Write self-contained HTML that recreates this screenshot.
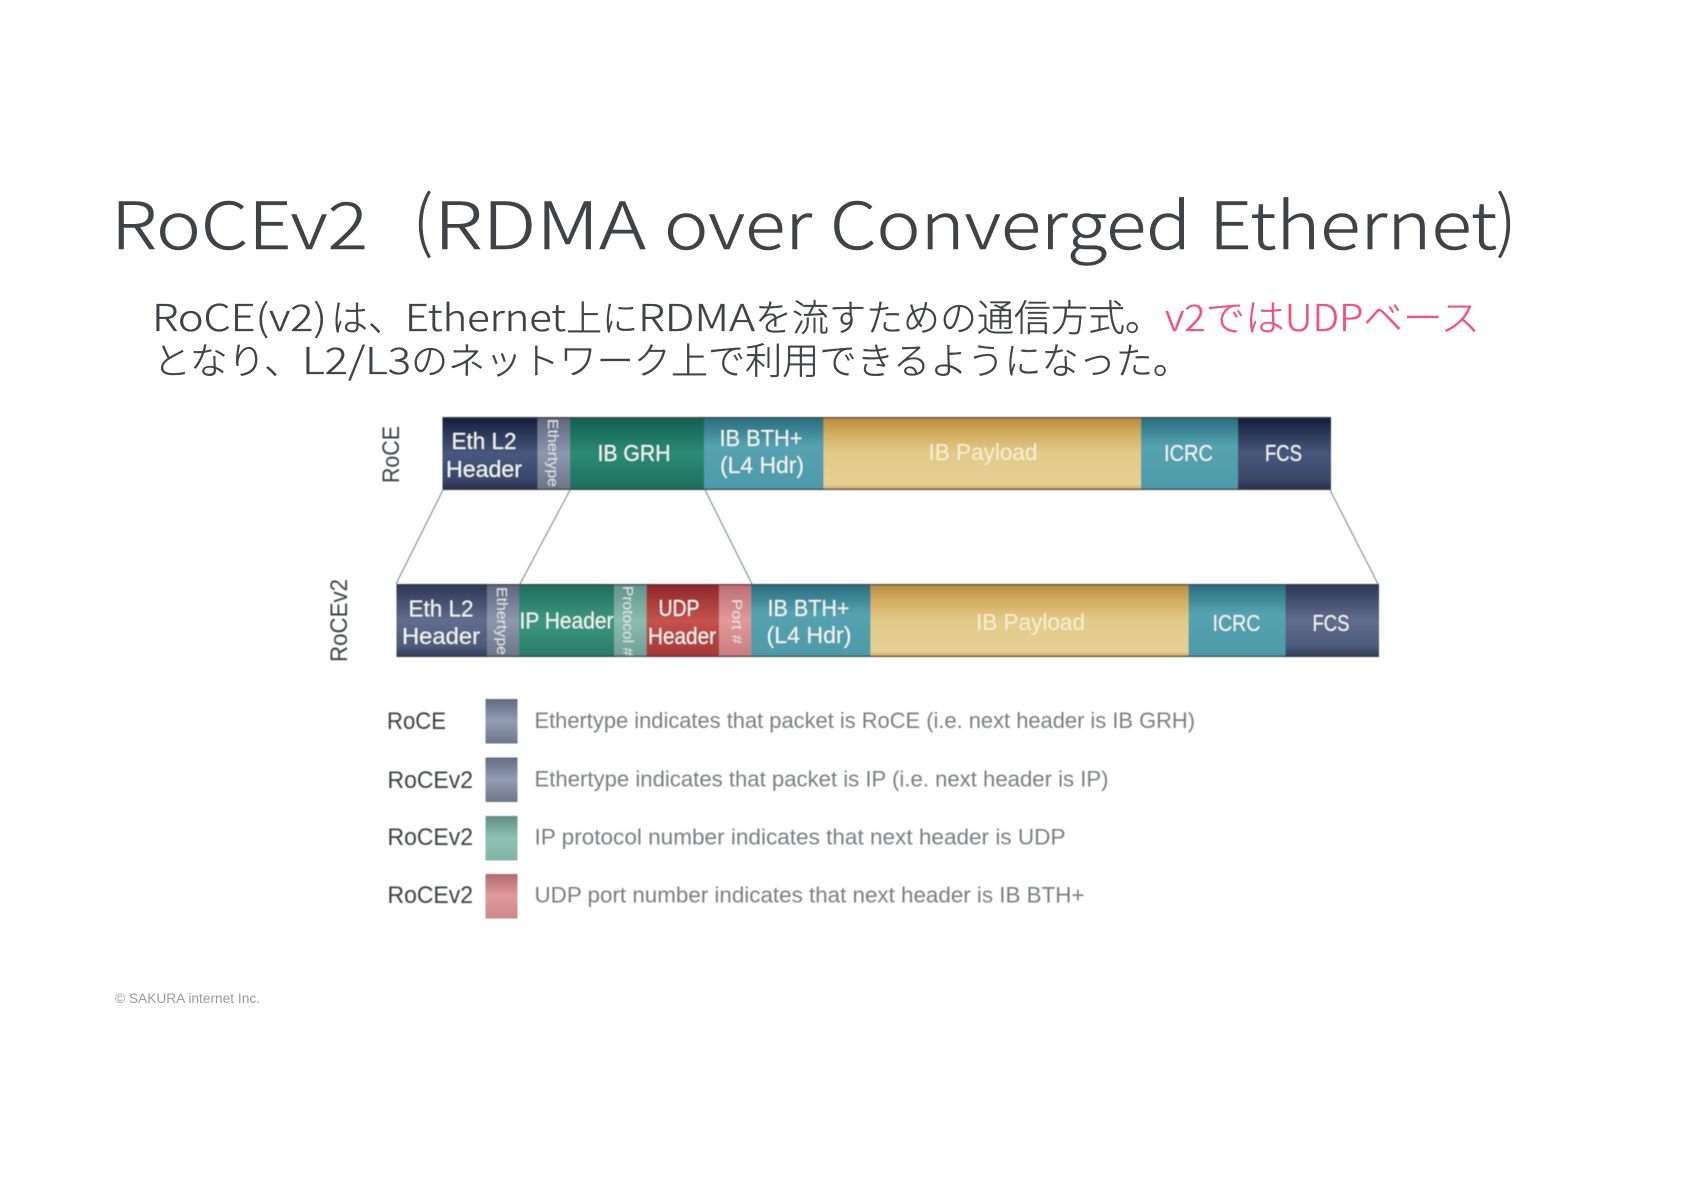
<!DOCTYPE html>
<html><head><meta charset="utf-8"><style>
html,body{margin:0;padding:0;background:#fff}
svg{display:block}
.t{font-family:"Noto Sans CJK JP","Liberation Sans",sans-serif;font-weight:300;stroke:#404247;stroke-width:.5}
.j{font-family:"Noto Sans CJK JP","Liberation Sans",sans-serif;font-weight:300;stroke:#404247;stroke-width:.35}
.p{font-family:"Noto Sans CJK JP","Liberation Sans",sans-serif;font-weight:300;stroke:#f2527c;stroke-width:.35;fill:#f2527c}
.w{font-family:"Liberation Sans",sans-serif;font-size:23px;fill:#f4f6f4;text-anchor:middle}
.v{font-family:"Liberation Sans",sans-serif;font-size:14.5px;fill:#dfe3e6}
.l{font-family:"Liberation Sans",sans-serif;font-size:24px;fill:#3c3f44}
.d{font-family:"Liberation Sans",sans-serif;font-size:22px;fill:#7a7d80}
</style></head><body>
<svg width="1684" height="1191" viewBox="0 0 1684 1191" xmlns="http://www.w3.org/2000/svg">
<defs>
<linearGradient id="navy" x1="0" y1="0" x2="0" y2="1"><stop offset="0" stop-color="#151d3a"/><stop offset=".5" stop-color="#47587c"/><stop offset=".85" stop-color="#3a4868"/><stop offset="1" stop-color="#252e4b"/></linearGradient>
<linearGradient id="navy2" x1="0" y1="0" x2="0" y2="1"><stop offset="0" stop-color="#2b3553"/><stop offset=".5" stop-color="#626d8e"/><stop offset=".85" stop-color="#4d5a7a"/><stop offset="1" stop-color="#2f3a58"/></linearGradient>
<linearGradient id="eth" x1="0" y1="0" x2="0" y2="1"><stop offset="0" stop-color="#5d657d"/><stop offset=".5" stop-color="#8e97ae"/><stop offset="1" stop-color="#6d7488"/></linearGradient>
<linearGradient id="grh" x1="0" y1="0" x2="0" y2="1"><stop offset="0" stop-color="#135e50"/><stop offset=".5" stop-color="#2b8b75"/><stop offset="1" stop-color="#1c6f5e"/></linearGradient>
<linearGradient id="ip" x1="0" y1="0" x2="0" y2="1"><stop offset="0" stop-color="#1f6b5b"/><stop offset=".5" stop-color="#3d9780"/><stop offset="1" stop-color="#277a67"/></linearGradient>
<linearGradient id="proto" x1="0" y1="0" x2="0" y2="1"><stop offset="0" stop-color="#5f9387"/><stop offset=".5" stop-color="#8bbcae"/><stop offset="1" stop-color="#6f9f93"/></linearGradient>
<linearGradient id="teal" x1="0" y1="0" x2="0" y2="1"><stop offset="0" stop-color="#276c7d"/><stop offset=".4" stop-color="#55a2b0"/><stop offset="1" stop-color="#4d9aaa"/></linearGradient>
<linearGradient id="gold" x1="0" y1="0" x2="0" y2="1"><stop offset="0" stop-color="#b98a3c"/><stop offset=".25" stop-color="#d4b064"/><stop offset=".5" stop-color="#e2ca8a"/><stop offset=".92" stop-color="#e5cf92"/><stop offset="1" stop-color="#c9a863"/></linearGradient>
<linearGradient id="udp" x1="0" y1="0" x2="0" y2="1"><stop offset="0" stop-color="#8f2528"/><stop offset=".5" stop-color="#c4534f"/><stop offset="1" stop-color="#a43634"/></linearGradient>
<linearGradient id="port" x1="0" y1="0" x2="0" y2="1"><stop offset="0" stop-color="#bd6d71"/><stop offset=".5" stop-color="#e3999a"/><stop offset="1" stop-color="#c77c7e"/></linearGradient>
<linearGradient id="s1" x1="0" y1="0" x2="0" y2="1"><stop offset="0" stop-color="#636b80"/><stop offset=".5" stop-color="#939db3"/><stop offset="1" stop-color="#6e7589"/></linearGradient>
<linearGradient id="s3" x1="0" y1="0" x2="0" y2="1"><stop offset="0" stop-color="#628f84"/><stop offset=".5" stop-color="#8fc2b2"/><stop offset="1" stop-color="#82b3a4"/></linearGradient>
<linearGradient id="s4" x1="0" y1="0" x2="0" y2="1"><stop offset="0" stop-color="#b26a6d"/><stop offset=".5" stop-color="#e19a9b"/><stop offset="1" stop-color="#cd8688"/></linearGradient>
<filter id="b" x="-2%" y="-2%" width="104%" height="104%"><feGaussianBlur stdDeviation="0.55"/></filter>
</defs>
<rect width="1684" height="1191" fill="#fff"/>

<!-- Title -->
<g fill="#404247">
<text class="t" x="111" y="249" font-size="65" textLength="257" lengthAdjust="spacingAndGlyphs">RoCEv2</text>
<text class="t" x="413" y="245" font-size="67" textLength="20" lengthAdjust="spacingAndGlyphs">(</text>
<text class="t" x="434" y="249" font-size="65" textLength="212" lengthAdjust="spacingAndGlyphs">RDMA</text>
<text class="t" x="664" y="249" font-size="65" textLength="148" lengthAdjust="spacingAndGlyphs">over</text>
<text class="t" x="830" y="249" font-size="65" textLength="361" lengthAdjust="spacingAndGlyphs">Converged</text>
<text class="t" x="1209" y="249" font-size="65" textLength="288" lengthAdjust="spacingAndGlyphs">Ethernet</text>
<text class="t" x="1496" y="245" font-size="67" textLength="20" lengthAdjust="spacingAndGlyphs">)</text>

<text class="j" x="152" y="331" font-size="37" textLength="175" lengthAdjust="spacingAndGlyphs">RoCE(v2)</text>
<text class="j" x="331" y="331" font-size="37">は、</text>
<text class="j" x="405" y="331" font-size="37" textLength="161" lengthAdjust="spacingAndGlyphs">Ethernet</text>
<text class="j" x="566" y="331" font-size="36">上に</text>
<text class="j" x="638" y="331" font-size="37" textLength="117" lengthAdjust="spacingAndGlyphs">RDMA</text>
<text class="j" x="755" y="331" font-size="37">を流すための通信方式。</text>

<text class="j" x="153" y="374" font-size="37" textLength="149" lengthAdjust="spacingAndGlyphs">となり、</text>
<text class="j" x="302" y="374" font-size="37" textLength="109" lengthAdjust="spacingAndGlyphs">L2/L3</text>
<text class="j" x="411" y="374" font-size="37" textLength="779" lengthAdjust="spacingAndGlyphs">のネットワーク上で利用できるようになった。</text>
</g>
<text class="p" x="1165" y="331" font-size="37" textLength="315" lengthAdjust="spacingAndGlyphs">v2ではUDPベース</text>

<g filter="url(#b)">
<!-- Connectors -->
<g stroke="#8b9196" stroke-width="1.2" fill="none">
<line x1="443" y1="490" x2="396" y2="584"/>
<line x1="570" y1="490" x2="520" y2="584"/>
<line x1="705" y1="490" x2="752" y2="584"/>
<line x1="1330" y1="490" x2="1378" y2="584"/>
</g>

<!-- Bar 1 -->
<rect x="442.5" y="417" width="95" height="73" fill="url(#navy)"/>
<rect x="537.5" y="417" width="32.5" height="73" fill="url(#eth)"/>
<rect x="570" y="417" width="134" height="73" fill="url(#grh)"/>
<rect x="704" y="417" width="119.5" height="73" fill="url(#teal)"/>
<rect x="823.5" y="417" width="317.5" height="73" fill="url(#gold)"/>
<rect x="1141" y="417" width="97" height="73" fill="url(#teal)"/>
<rect x="1238" y="417" width="93" height="73" fill="url(#navy)"/>
<rect x="442.5" y="417" width="888.5" height="1.5" fill="#3a3f40" opacity=".7"/>
<rect x="442.5" y="488.5" width="888.5" height="1.5" fill="#3a3f40" opacity=".8"/>

<!-- Bar 2 -->
<rect x="396.5" y="584" width="90.5" height="73" fill="url(#navy2)"/>
<rect x="487" y="584" width="32" height="73" fill="url(#eth)"/>
<rect x="519" y="584" width="95" height="73" fill="url(#ip)"/>
<rect x="614" y="584" width="32.5" height="73" fill="url(#proto)"/>
<rect x="646.5" y="584" width="72.5" height="73" fill="url(#udp)"/>
<rect x="719" y="584" width="32" height="73" fill="url(#port)"/>
<rect x="751" y="584" width="119.5" height="73" fill="url(#teal)"/>
<rect x="870.5" y="584" width="318" height="73" fill="url(#gold)"/>
<rect x="1188.5" y="584" width="97" height="73" fill="url(#teal)"/>
<rect x="1285.5" y="584" width="93.5" height="73" fill="url(#navy2)"/>
<rect x="396.5" y="584" width="982.5" height="1.5" fill="#3a3f40" opacity=".7"/>
<rect x="396.5" y="655.5" width="982.5" height="1.5" fill="#3a3f40" opacity=".8"/>

<!-- Bar labels -->
<text class="l" transform="translate(399,483) rotate(-90)" textLength="57" lengthAdjust="spacingAndGlyphs">RoCE</text>
<text class="l" transform="translate(347,662) rotate(-90)" textLength="83" lengthAdjust="spacingAndGlyphs">RoCEv2</text>

<text class="w" x="484" y="449" textLength="65" lengthAdjust="spacingAndGlyphs">Eth L2</text>
<text class="w" x="484" y="477" textLength="76" lengthAdjust="spacingAndGlyphs">Header</text>
<text class="v" transform="translate(548,419) rotate(90)" textLength="68" lengthAdjust="spacingAndGlyphs">Ethertype</text>
<text class="w" x="634" y="461" textLength="73" lengthAdjust="spacingAndGlyphs">IB GRH</text>
<text class="w" x="761" y="446" textLength="83" lengthAdjust="spacingAndGlyphs">IB BTH+</text>
<text class="w" x="762" y="473" textLength="84" lengthAdjust="spacingAndGlyphs">(L4 Hdr)</text>
<text class="w" x="983" y="460" textLength="109" lengthAdjust="spacingAndGlyphs" style="fill:#f7efd0">IB Payload</text>
<text class="w" x="1188.5" y="461" textLength="49" lengthAdjust="spacingAndGlyphs">ICRC</text>
<text class="w" x="1283.5" y="461" textLength="37" lengthAdjust="spacingAndGlyphs">FCS</text>

<text class="w" x="441" y="616.5" textLength="65" lengthAdjust="spacingAndGlyphs">Eth L2</text>
<text class="w" x="441" y="644" textLength="78" lengthAdjust="spacingAndGlyphs">Header</text>
<text class="v" transform="translate(497,587) rotate(90)" textLength="68" lengthAdjust="spacingAndGlyphs">Ethertype</text>
<text class="w" x="566.5" y="628.5" textLength="94" lengthAdjust="spacingAndGlyphs">IP Header</text>
<text class="v" transform="translate(623,586) rotate(90)" textLength="70" lengthAdjust="spacingAndGlyphs">Protocol #</text>
<text class="w" x="679" y="616" textLength="41" lengthAdjust="spacingAndGlyphs">UDP</text>
<text class="w" x="682" y="644" textLength="68" lengthAdjust="spacingAndGlyphs">Header</text>
<text class="v" transform="translate(732,599) rotate(90)" textLength="45" lengthAdjust="spacingAndGlyphs">Port #</text>
<text class="w" x="808.5" y="616" textLength="82" lengthAdjust="spacingAndGlyphs">IB BTH+</text>
<text class="w" x="809" y="643" textLength="85" lengthAdjust="spacingAndGlyphs">(L4 Hdr)</text>
<text class="w" x="1030.5" y="630" textLength="109" lengthAdjust="spacingAndGlyphs" style="fill:#f7efd0">IB Payload</text>
<text class="w" x="1236.5" y="631" textLength="48" lengthAdjust="spacingAndGlyphs">ICRC</text>
<text class="w" x="1331" y="631" textLength="37" lengthAdjust="spacingAndGlyphs">FCS</text>

<!-- Legend -->
<rect x="485.5" y="699" width="32" height="44.5" fill="url(#s1)"/>
<rect x="485.5" y="757.5" width="32" height="44.5" fill="url(#s1)"/>
<rect x="485.5" y="816" width="32" height="44.5" fill="url(#s3)"/>
<rect x="485.5" y="874" width="32" height="44.5" fill="url(#s4)"/>

<text class="l" x="387" y="729" textLength="59" lengthAdjust="spacingAndGlyphs">RoCE</text>
<text class="l" x="387.5" y="788" textLength="85.5" lengthAdjust="spacingAndGlyphs">RoCEv2</text>
<text class="l" x="387.5" y="845" textLength="85.5" lengthAdjust="spacingAndGlyphs">RoCEv2</text>
<text class="l" x="387.5" y="903" textLength="85.5" lengthAdjust="spacingAndGlyphs">RoCEv2</text>

<text class="d" x="534.5" y="728" textLength="660.5" lengthAdjust="spacingAndGlyphs">Ethertype indicates that packet is RoCE (i.e. next header is IB GRH)</text>
<text class="d" x="534.5" y="786.5" textLength="574" lengthAdjust="spacingAndGlyphs">Ethertype indicates that packet is IP (i.e. next header is IP)</text>
<text class="d" x="534.5" y="844.5" textLength="531" lengthAdjust="spacingAndGlyphs">IP protocol number indicates that next header is UDP</text>
<text class="d" x="534.5" y="902.5" textLength="550" lengthAdjust="spacingAndGlyphs">UDP port number indicates that next header is IB BTH+</text>
</g>

<!-- Footer -->
<text x="115" y="1003" font-family="&quot;Liberation Sans&quot;,sans-serif" font-size="13.5" fill="#9a9a9a" textLength="145" lengthAdjust="spacingAndGlyphs">© SAKURA internet Inc.</text>
</svg>
</body></html>
